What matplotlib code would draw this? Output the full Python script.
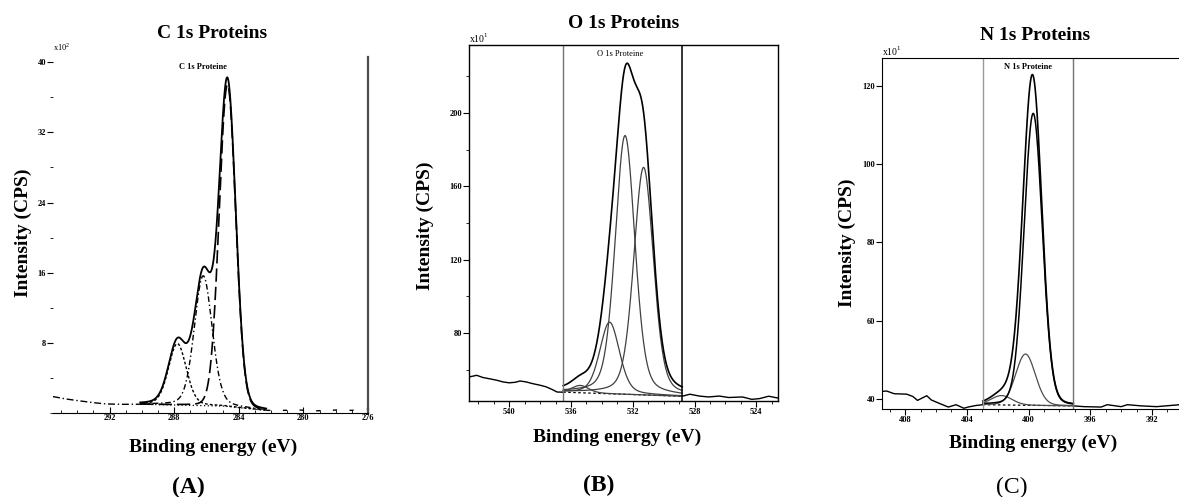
import numpy as np
import matplotlib.pyplot as plt
from matplotlib.ticker import MultipleLocator, FixedLocator

plt.rcParams['font.family'] = 'Liberation Serif'
plt.rcParams['mathtext.fontset'] = 'custom'
plt.rcParams['mathtext.rm'] = 'Liberation Serif'

# ---- C 1s : fitted components (center eV, height above bg, FWHM, lorentz fraction)
c1s_center = [284.7, 286.2, 287.8]
c1s_height = [36.7, 14.8, 7.0]
c1s_fwhm = [1.2, 1.3, 1.3]
c1s_eta = [0.05, 0.2, 0.2]
c1s_bg_be = [290.1, 285.0, 282.3]
c1s_bg_int = [1.0, 0.8, 0.3]
c1s_left_be = [295.5, 294.7, 293.8, 293.0, 292.2, 291.1, 290.1]
c1s_left_int = [1.87, 1.6, 1.37, 1.18, 1.03, 0.99, 1.0]
c1s_right_be = [282.3, 281.2, 280.4, 279.2, 277.8, 277.0, 276.1]
c1s_right_int = [0.3, 0.3, 0.35, 0.25, 0.35, 0.3, 0.45]
c1s_xticks = [292, 288, 284, 280, 276]
c1s_yticks = [8, 16, 24, 32, 40]

# ---- O 1s
o1s_center = [532.5, 531.3, 533.5, 535.4]
o1s_height = [141, 124, 39, 4]
o1s_fwhm = [1.5, 1.5, 1.5, 1.3]
o1s_eta = [0.3, 0.3, 0.3, 0.3]
o1s_bg_be = [536.5, 528.8]
o1s_bg_int = [47.8, 45.6]
o1s_left_be = [542.6, 542.1, 541.7, 541.2, 540.8, 540.4, 540.0, 539.6, 539.3, 538.9,
               538.5, 538.0, 537.6, 537.2, 536.9, 536.5]
o1s_left_int = [56.1, 57.0, 55.8, 55.0, 54.3, 53.4, 52.9, 53.2, 53.9, 53.4,
                52.5, 51.6, 50.7, 49.2, 47.9, 47.8]
o1s_right_be = [528.8, 528.3, 527.7, 527.1, 526.4, 525.8, 524.9, 524.3, 523.8, 523.2, 522.6]
o1s_right_int = [45.6, 46.7, 45.7, 45.2, 45.7, 44.9, 45.2, 43.9, 44.3, 45.6, 44.6]
o1s_xticks = [540, 536, 532, 528, 524]
o1s_yticks = [80, 120, 160, 200]

# ---- N 1s
n1s_center = [399.7, 400.2, 401.75]
n1s_height = [74.7, 13.1, 2.4]
n1s_fwhm = [1.4, 1.5, 1.6]
n1s_eta = [0.1, 0.1, 0.1]
n1s_bg_be = [402.96, 397.1]
n1s_bg_int = [38.5, 38.2]
n1s_left_be = [409.5, 409.2, 408.7, 407.9, 407.5, 407.2, 406.9, 406.6, 406.3, 405.7,
               405.2, 404.7, 404.2, 403.8, 403.4, 402.96]
n1s_left_int = [41.9, 42.0, 41.3, 41.2, 40.6, 39.6, 40.2, 40.8, 39.7, 38.7,
                37.9, 38.5, 37.6, 38.0, 38.3, 38.5]
n1s_right_be = [397.1, 396.4, 395.3, 394.9, 394.0, 393.6, 392.7, 391.7, 390.8, 390.2]
n1s_right_int = [38.2, 38.0, 37.9, 38.5, 38.0, 38.5, 38.2, 38.0, 38.3, 38.5]
n1s_xticks = [408, 404, 400, 396, 392]
n1s_yticks = [40, 60, 80, 100, 120]


def pv(x, c, h, w, eta):
    g = np.exp(-4 * np.log(2) * ((x - c) / w) ** 2)
    l = 1 / (1 + 4 * ((x - c) / w) ** 2)
    return h * ((1 - eta) * g + eta * l)


def fit_curves(centers, heights, fwhms, etas, bg_be, bg_int):
    be = np.linspace(bg_be[0], bg_be[-1], 500)
    bg = np.interp(be, bg_be[::-1], bg_int[::-1])
    comps = [bg + pv(be, c, h, w, e) for c, h, w, e in zip(centers, heights, fwhms, etas)]
    env = bg + sum(c - bg for c in comps)
    return be, bg, comps, env


def style_ticks(ax):
    ax.tick_params(axis='both', which='major', labelsize=6, length=4, width=0.8, pad=1)
    ax.tick_params(axis='both', which='minor', length=2, width=0.6)
    for lab in ax.get_xticklabels() + ax.get_yticklabels():
        lab.set_fontweight('bold')


fig = plt.figure(figsize=(11.79, 4.97), dpi=100)
W, H = 1179.0, 497.0

# ================= (A) C 1s
axA = fig.add_axes([53 / W, 84 / H, 315 / W, 356 / H])
be, bg, comps, env = fit_curves(c1s_center, c1s_height, c1s_fwhm, c1s_eta, c1s_bg_be, c1s_bg_int)
axA.plot(c1s_left_be, c1s_left_int, color='k', lw=1, linestyle=(0, (5, 2, 1, 2)))
axA.plot(c1s_right_be, c1s_right_int, color='k', lw=1, linestyle=(0, (3, 9)))
axA.plot(be, bg, color='k', lw=0.9, linestyle=(0, (1, 2)))
axA.plot(be, env, color='k', lw=1.3)
axA.plot(be, comps[0], color='k', lw=1.2, linestyle=(0, (8, 3)))
axA.plot(be, comps[1], color='k', lw=1, linestyle=(0, (4, 2, 1, 2)))
axA.plot(be, comps[2], color='k', lw=1, linestyle=(0, (2, 1.5)))
axA.set_xlim(295.5, 276)
axA.set_ylim(0, 40.6)
axA.xaxis.set_major_locator(FixedLocator(c1s_xticks))
axA.xaxis.set_minor_locator(MultipleLocator(1))
axA.yaxis.set_major_locator(FixedLocator(c1s_yticks))
axA.yaxis.set_minor_locator(MultipleLocator(4))
axA.spines['left'].set_visible(False)
axA.spines['top'].set_visible(False)
axA.spines['right'].set_linewidth(1.6)
axA.spines['right'].set_color('0.3')
axA.tick_params(axis='x', which='both', direction='in')
style_ticks(axA)
axA.text(0.0, 1.01, r'x10$^{2}$', transform=axA.transAxes, fontsize=6, ha='left', va='bottom')
axA.text(0.476, 0.983, 'C 1s Proteine', transform=axA.transAxes, fontsize=6,
         ha='center', va='top', fontweight='bold')

# ================= (B) O 1s
axB = fig.add_axes([469 / W, 96 / H, 309 / W, 356 / H])
be, bg, comps, env = fit_curves(o1s_center, o1s_height, o1s_fwhm, o1s_eta, o1s_bg_be, o1s_bg_int)
axB.plot(o1s_left_be, o1s_left_int, color='k', lw=1)
axB.plot(o1s_right_be, o1s_right_int, color='k', lw=1)
axB.plot(be, bg, color='k', lw=0.9, linestyle=(0, (2, 2)))
for comp in comps:
    axB.plot(be, comp, color='0.25', lw=0.9)
axB.plot(be, env, color='k', lw=1.2)
axB.axvline(o1s_bg_be[0], color='0.45', lw=1)
axB.axvline(o1s_bg_be[-1], color='k', lw=1.1)
axB.set_xlim(542.6, 522.6)
axB.set_ylim(43, 237)
axB.xaxis.set_major_locator(FixedLocator(o1s_xticks))
axB.xaxis.set_minor_locator(MultipleLocator(1))
axB.yaxis.set_major_locator(FixedLocator(o1s_yticks))
axB.yaxis.set_minor_locator(FixedLocator([60, 100, 140, 180, 220]))
for s in axB.spines.values():
    s.set_linewidth(1)
style_ticks(axB)
axB.text(0.0, 1.0, r'x10$^{1}$', transform=axB.transAxes, fontsize=7, ha='left', va='bottom')
axB.text(0.489, 0.985, 'O 1s Proteine', transform=axB.transAxes, fontsize=6, ha='center', va='top')

# ================= (C) N 1s
axC = fig.add_axes([882 / W, 88 / H, 297 / W, 351 / H])
be, bg, comps, env = fit_curves(n1s_center, n1s_height, n1s_fwhm, n1s_eta, n1s_bg_be, n1s_bg_int)
axC.plot(n1s_left_be, n1s_left_int, color='k', lw=1)
axC.plot(n1s_right_be, n1s_right_int, color='k', lw=1)
axC.plot(be, bg, color='k', lw=0.9, linestyle=(0, (2, 2)))
axC.plot(be, comps[1], color='0.3', lw=0.9)
axC.plot(be, comps[2], color='0.3', lw=0.9)
axC.plot(be, comps[0], color='k', lw=1.1)
axC.plot(be, env, color='k', lw=1.2)
axC.axvline(n1s_bg_be[0], color='0.6', lw=1)
axC.axvline(n1s_bg_be[-1], color='0.45', lw=1)
axC.set_xlim(409.5, 390.25)
axC.set_ylim(37.4, 127.2)
axC.xaxis.set_major_locator(FixedLocator(n1s_xticks))
axC.xaxis.set_minor_locator(MultipleLocator(1))
axC.yaxis.set_major_locator(FixedLocator(n1s_yticks))
axC.spines['right'].set_visible(False)
style_ticks(axC)
axC.text(0.0, 1.0, r'x10$^{1}$', transform=axC.transAxes, fontsize=7, ha='left', va='bottom')
axC.text(0.49, 0.985, 'N 1s Proteine', transform=axC.transAxes, fontsize=6,
         ha='center', va='top', fontweight='bold')

# ================= titles and labels
titles = ['C 1s Proteins', 'O 1s Proteins', 'N 1s Proteins']
title_xy = [(212, 33), (624, 23), (1035, 35)]
xlab_xy = [(213, 447), (617, 437), (1033, 443)]
ylab_xy = [(23, 233), (425, 226), (847, 243)]
letters = ['(A)', '(B)', '(C)']
letter_xy = [(188, 487), (599, 485), (1012, 487)]
letter_w = ['bold', 'bold', 'normal']

for i in range(3):
    fig.text(title_xy[i][0] / W, 1 - title_xy[i][1] / H, titles[i], fontsize=14,
             fontweight='bold', ha='center', va='center')
    fig.text(xlab_xy[i][0] / W, 1 - xlab_xy[i][1] / H, 'Binding energy (eV)', fontsize=14,
             fontweight='bold', ha='center', va='center')
    fig.text(ylab_xy[i][0] / W, 1 - ylab_xy[i][1] / H, 'Intensity (CPS)', fontsize=14,
             fontweight='bold', ha='center', va='center', rotation=90)
    fig.text(letter_xy[i][0] / W, 1 - letter_xy[i][1] / H, letters[i], fontsize=17,
             fontweight=letter_w[i], ha='center', va='center')

plt.savefig('out.png', dpi=100)
